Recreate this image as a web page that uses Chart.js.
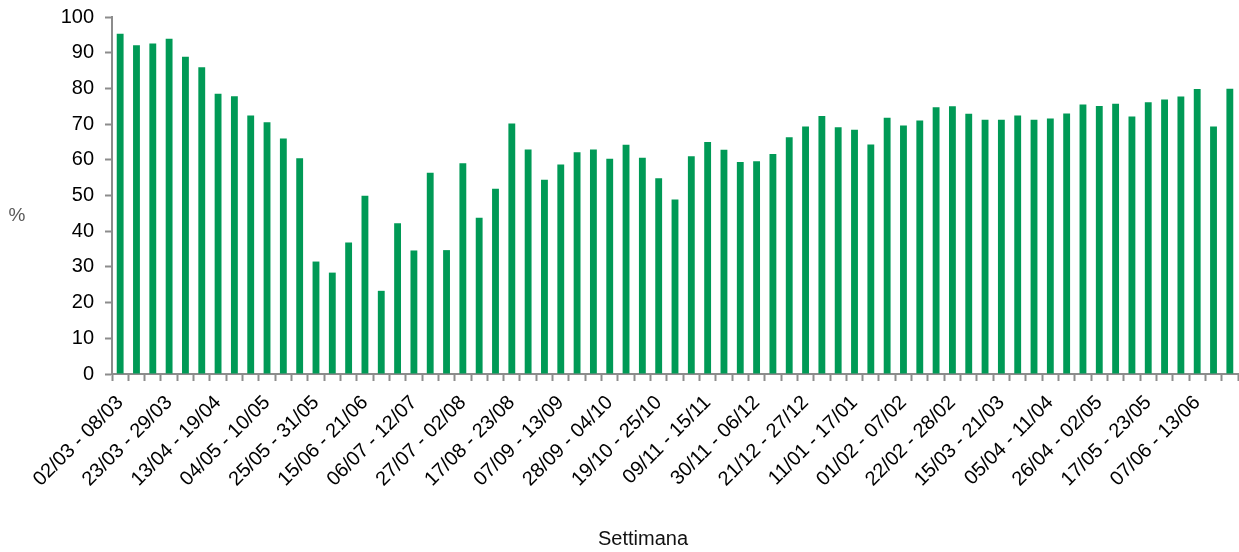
<!DOCTYPE html>
<html>
<head>
<meta charset="utf-8">
<script src="https://cdn.jsdelivr.net/npm/chart.js@4.4.1/dist/chart.umd.min.js"></script>
<style>
  html, body { margin: 0; padding: 0; background: #fff; }
  #wrap { width: 1239px; height: 552px; position: relative; }
</style>
</head>
<body>
<div id="wrap"><canvas id="chart"></canvas></div>
<script>
// ==================================================================
//                              DATA
// ==================================================================
// weeks (Monday - Sunday), 2020 to 2021
const weeks = [
    '02/03 - 08/03', '09/03 - 15/03', '16/03 - 22/03', '23/03 - 29/03', '30/03 - 05/04',
    '06/04 - 12/04', '13/04 - 19/04', '20/04 - 26/04', '27/04 - 03/05', '04/05 - 10/05',
    '11/05 - 17/05', '18/05 - 24/05', '25/05 - 31/05', '01/06 - 07/06', '08/06 - 14/06',
    '15/06 - 21/06', '22/06 - 28/06', '29/06 - 05/07', '06/07 - 12/07', '13/07 - 19/07',
    '20/07 - 26/07', '27/07 - 02/08', '03/08 - 09/08', '10/08 - 16/08', '17/08 - 23/08',
    '24/08 - 30/08', '31/08 - 06/09', '07/09 - 13/09', '14/09 - 20/09', '21/09 - 27/09',
    '28/09 - 04/10', '05/10 - 11/10', '12/10 - 18/10', '19/10 - 25/10', '26/10 - 01/11',
    '02/11 - 08/11', '09/11 - 15/11', '16/11 - 22/11', '23/11 - 29/11', '30/11 - 06/12',
    '07/12 - 13/12', '14/12 - 20/12', '21/12 - 27/12', '28/12 - 03/01', '04/01 - 10/01',
    '11/01 - 17/01', '18/01 - 24/01', '25/01 - 31/01', '01/02 - 07/02', '08/02 - 14/02',
    '15/02 - 21/02', '22/02 - 28/02', '01/03 - 07/03', '08/03 - 14/03', '15/03 - 21/03',
    '22/03 - 28/03', '29/03 - 04/04', '05/04 - 11/04', '12/04 - 18/04', '19/04 - 25/04',
    '26/04 - 02/05', '03/05 - 09/05', '10/05 - 16/05', '17/05 - 23/05', '24/05 - 30/05',
    '31/05 - 06/06', '07/06 - 13/06', '14/06 - 20/06', '21/06 - 27/06'
];

// percentage per week
const percent = [
    95.3, 92.1, 92.6, 93.9, 88.9, 85.9, 78.5, 77.8, 72.4, 70.5,
    66.0, 60.4, 31.5, 28.4, 36.8, 49.9, 23.3, 42.2, 34.6, 56.4,
    34.7, 59.0, 43.8, 51.9, 70.2, 62.9, 54.4, 58.7, 62.1, 62.9,
    60.3, 64.2, 60.6, 54.8, 48.9, 61.0, 65.0, 62.8, 59.4, 59.6,
    61.6, 66.3, 69.3, 72.3, 69.1, 68.4, 64.3, 71.8, 69.6, 71.0,
    74.7, 75.0, 72.9, 71.2, 71.2, 72.4, 71.2, 71.6, 73.0, 75.5,
    75.1, 75.7, 72.1, 76.1, 76.9, 77.7, 79.8, 69.3, 79.9
];

const yTicks = [0, 10, 20, 30, 40, 50, 60, 70, 80, 90, 100];

// ==================================================================
//                             CHART
// ==================================================================
const axisGray = '#8c8c8c';
const font = 'Liberation Sans';

// axis titles: horizontal '%' on the left, 'Settimana' under the labels
const axisTitles = {
    id: 'axisTitles',
    afterDraw: (chart) => {
        const ctx = chart.ctx;
        const area = chart.chartArea;
        ctx.save();
        ctx.textAlign = 'center';
        ctx.textBaseline = 'middle';
        ctx.fillStyle = '#595959';
        ctx.font = '19px "' + font + '"';
        ctx.fillText('%', 17, (area.top + area.bottom) / 2 + 20);
        ctx.fillStyle = '#111';
        ctx.font = '20px "' + font + '"';
        ctx.fillText('Settimana', 643, 539);
        ctx.restore();
    }
};

const ctx = document.getElementById('chart').getContext('2d');
new Chart(ctx, {
    type: 'bar',
    data: {
        labels: weeks,
        datasets: [{
            label: '%',
            data: percent,
            backgroundColor: '#009a56',
            borderWidth: 0,
            barPercentage: 0.42,
            categoryPercentage: 1.0
        }]
    },
    options: {
        responsive: true,
        maintainAspectRatio: false,
        animation: false,
        layout: { padding: { top: 17, right: 1, left: 0, bottom: 0 } },
        plugins: {
            legend: { display: false },
            tooltip: { enabled: false }
        },
        scales: {
            x: {
                afterFit: (scale) => {
                    scale.height = 178;
                    scale.paddingLeft = 0;
                    scale.paddingRight = 0;
                    scale.paddingTop = 0;
                    scale.paddingBottom = 0;
                },
                grid: {
                    display: true,
                    drawOnChartArea: false,
                    drawTicks: true,
                    tickLength: 7,
                    tickWidth: 2,
                    color: axisGray,
                    offset: true
                },
                border: { display: true, color: axisGray, width: 2 },
                ticks: {
                    autoSkip: false,
                    maxRotation: 45,
                    minRotation: 45,
                    padding: 10,
                    color: '#000',
                    font: { family: font, size: 20 },
                    callback: (val, i) => (i % 3 === 0 ? weeks[i] : '')
                }
            },
            y: {
                min: 0,
                max: 100,
                afterFit: (scale) => {
                    scale.width = 112;
                    scale.paddingTop = 0;
                    scale.paddingBottom = 0;
                },
                afterBuildTicks: (scale) => { scale.ticks = yTicks.map(v => ({ value: v })); },
                grid: {
                    display: true,
                    drawOnChartArea: false,
                    drawTicks: true,
                    tickLength: 7,
                    tickWidth: 2,
                    color: axisGray
                },
                border: { display: true, color: axisGray, width: 2 },
                ticks: {
                    padding: 11,
                    color: '#000',
                    font: { family: font, size: 20 }
                }
            }
        }
    },
    plugins: [axisTitles]
});
</script>
</body>
</html>
